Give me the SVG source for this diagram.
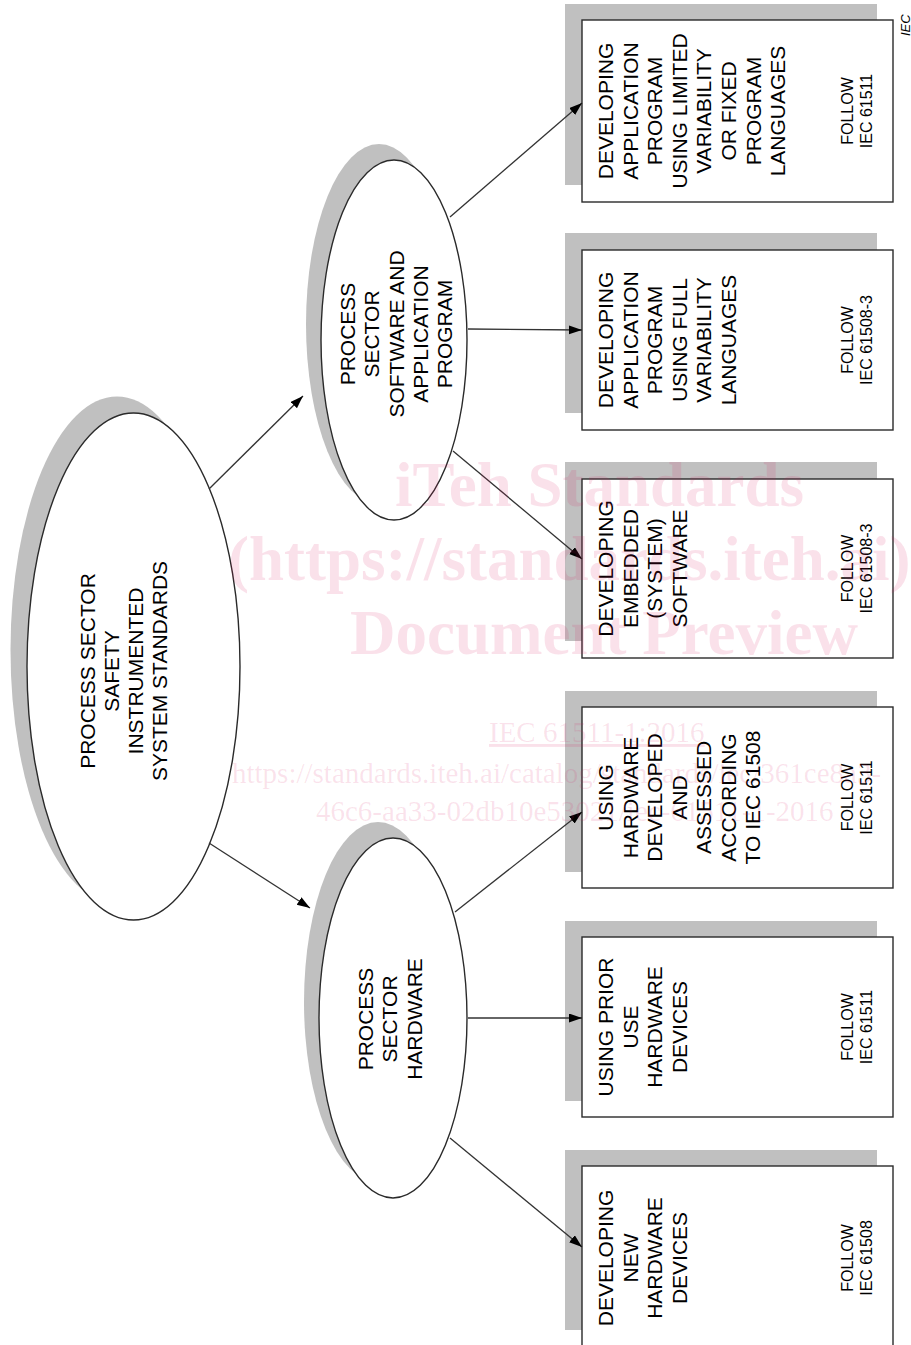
<svg xmlns="http://www.w3.org/2000/svg" width="911" height="1345" viewBox="0 0 911 1345">
<style>
.sh{fill:#c0c0c0;stroke:none}
.node{fill:#fff;stroke:#2a2a2a;stroke-width:1.4}
.lbl{font-family:"Liberation Sans",Arial,sans-serif;font-size:21px;fill:#000;text-anchor:middle}
.fol{font-family:"Liberation Sans",Arial,sans-serif;font-size:16px;fill:#000;text-anchor:middle}
.con{stroke:#333;stroke-width:1.3;fill:none;marker-end:url(#ah)}
.wm{font-family:"Liberation Serif","Times New Roman",serif;fill:#d81b60;fill-opacity:0.13}
.wb{font-weight:bold;font-size:63px}
.wr{font-size:29px}
</style>
<defs>
<marker id="ah" markerUnits="userSpaceOnUse" markerWidth="14" markerHeight="10" refX="13" refY="4.5" orient="auto">
<path d="M0,0 L13,4.5 L0,9 Z" fill="#000"/>
</marker>
</defs>
<rect width="911" height="1345" fill="#fff"/>

<g id="main">
<ellipse class="sh" cx="117" cy="650" rx="106.5" ry="253.5"/>
<ellipse class="node" cx="133.5" cy="666.5" rx="106.5" ry="253.5"/>
<text class="lbl" transform="translate(95,671) rotate(-90)"><tspan x="0" y="0">PROCESS SECTOR</tspan><tspan x="0" dy="24">SAFETY</tspan><tspan x="0" dy="24">INSTRUMENTED</tspan><tspan x="0" dy="24">SYSTEM STANDARDS</tspan></text>
</g>

<g id="software">
<ellipse class="sh" cx="379" cy="324" rx="73" ry="180"/>
<ellipse class="node" cx="394" cy="340" rx="73" ry="180"/>
<text class="lbl" transform="translate(355,334) rotate(-90)"><tspan x="0" y="0">PROCESS</tspan><tspan x="0" dy="24.3">SECTOR</tspan><tspan x="0" dy="24.3">SOFTWARE AND</tspan><tspan x="0" dy="24.3">APPLICATION</tspan><tspan x="0" dy="24.3">PROGRAM</tspan></text>
</g>

<g id="hardware">
<ellipse class="sh" cx="378" cy="1002" rx="74" ry="180"/>
<ellipse class="node" cx="393" cy="1018" rx="74" ry="180"/>
<text class="lbl" transform="translate(373,1019) rotate(-90)"><tspan x="0" y="0">PROCESS</tspan><tspan x="0" dy="24.3">SECTOR</tspan><tspan x="0" dy="24.3">HARDWARE</tspan></text>
</g>

<g id="box1">
<rect class="sh" x="565" y="4" width="312" height="181"/>
<rect class="node" x="582" y="20" width="311" height="182"/>
<text class="lbl" transform="translate(613,111) rotate(-90)"><tspan x="0" y="0">DEVELOPING</tspan><tspan x="0" dy="24.6">APPLICATION</tspan><tspan x="0" dy="24.6">PROGRAM</tspan><tspan x="0" dy="24.6">USING LIMITED</tspan><tspan x="0" dy="24.6">VARIABILITY</tspan><tspan x="0" dy="24.6">OR FIXED</tspan><tspan x="0" dy="24.6">PROGRAM</tspan><tspan x="0" dy="24.6">LANGUAGES</tspan></text>
<text class="fol" transform="translate(853,111) rotate(-90)"><tspan x="0" y="0">FOLLOW</tspan><tspan x="0" dy="19">IEC 61511</tspan></text>
</g>

<g id="box2">
<rect class="sh" x="565" y="233" width="312" height="180"/>
<rect class="node" x="582" y="250" width="311" height="180"/>
<text class="lbl" transform="translate(613,340) rotate(-90)"><tspan x="0" y="0">DEVELOPING</tspan><tspan x="0" dy="24.5">APPLICATION</tspan><tspan x="0" dy="24.5">PROGRAM</tspan><tspan x="0" dy="24.5">USING FULL</tspan><tspan x="0" dy="24.5">VARIABILITY</tspan><tspan x="0" dy="24.5">LANGUAGES</tspan></text>
<text class="fol" transform="translate(853,340) rotate(-90)"><tspan x="0" y="0">FOLLOW</tspan><tspan x="0" dy="19">IEC 61508-3</tspan></text>
</g>

<g id="box3">
<rect class="sh" x="565" y="462" width="312" height="179"/>
<rect class="node" x="582" y="479" width="311" height="179"/>
<text class="lbl" transform="translate(613,568.5) rotate(-90)"><tspan x="0" y="0">DEVELOPING</tspan><tspan x="0" dy="24.5">EMBEDDED</tspan><tspan x="0" dy="24.5">(SYSTEM)</tspan><tspan x="0" dy="24.5">SOFTWARE</tspan></text>
<text class="fol" transform="translate(853,568.5) rotate(-90)"><tspan x="0" y="0">FOLLOW</tspan><tspan x="0" dy="19">IEC 61508-3</tspan></text>
</g>

<g id="box4">
<rect class="sh" x="565" y="691" width="312" height="181"/>
<rect class="node" x="582" y="707" width="311" height="181"/>
<text class="lbl" transform="translate(613,797.5) rotate(-90)"><tspan x="0" y="0">USING</tspan><tspan x="0" dy="24.5">HARDWARE</tspan><tspan x="0" dy="24.5">DEVELOPED</tspan><tspan x="0" dy="24.5">AND</tspan><tspan x="0" dy="24.5">ASSESSED</tspan><tspan x="0" dy="24.5">ACCORDING</tspan><tspan x="0" dy="24.5">TO IEC 61508</tspan></text>
<text class="fol" transform="translate(853,797.5) rotate(-90)"><tspan x="0" y="0">FOLLOW</tspan><tspan x="0" dy="19">IEC 61511</tspan></text>
</g>

<g id="box5">
<rect class="sh" x="565" y="921" width="312" height="180"/>
<rect class="node" x="582" y="937" width="311" height="180"/>
<text class="lbl" transform="translate(613,1027) rotate(-90)"><tspan x="0" y="0">USING PRIOR</tspan><tspan x="0" dy="24.5">USE</tspan><tspan x="0" dy="24.5">HARDWARE</tspan><tspan x="0" dy="24.5">DEVICES</tspan></text>
<text class="fol" transform="translate(853,1027) rotate(-90)"><tspan x="0" y="0">FOLLOW</tspan><tspan x="0" dy="19">IEC 61511</tspan></text>
</g>

<g id="box6">
<rect class="sh" x="565" y="1150" width="312" height="180"/>
<rect class="node" x="582" y="1166" width="311" height="180"/>
<text class="lbl" transform="translate(613,1258) rotate(-90)"><tspan x="0" y="0">DEVELOPING</tspan><tspan x="0" dy="24.5">NEW</tspan><tspan x="0" dy="24.5">HARDWARE</tspan><tspan x="0" dy="24.5">DEVICES</tspan></text>
<text class="fol" transform="translate(853,1258) rotate(-90)"><tspan x="0" y="0">FOLLOW</tspan><tspan x="0" dy="19">IEC 61508</tspan></text>
</g>

<g id="connectors">
<line class="con" x1="209" y1="489" x2="303" y2="396"/>
<line class="con" x1="209" y1="843" x2="310" y2="908"/>
<line class="con" x1="450" y1="217" x2="582" y2="103"/>
<line class="con" x1="468" y1="329" x2="582" y2="330"/>
<line class="con" x1="453" y1="451" x2="582" y2="559"/>
<line class="con" x1="455" y1="912" x2="582" y2="812"/>
<line class="con" x1="468" y1="1018" x2="582" y2="1018"/>
<line class="con" x1="450" y1="1138" x2="582" y2="1247"/>
</g>

<text transform="translate(910,36) rotate(-90)" font-family="Liberation Sans,Arial,sans-serif" font-size="13" font-style="italic" fill="#000">IEC</text>

<g id="watermark">
<text class="wm wb" x="395" y="506">iTeh Standards</text>
<text class="wm wb" x="228" y="580">(https://standards.iteh.ai)</text>
<text class="wm wb" x="350" y="654">Document Preview</text>
<text class="wm wr" x="489" y="742" text-decoration="underline">IEC 61511-1:2016</text>
<text class="wm wr" x="232" y="783">https://standards.iteh.ai/catalog/standards/iec/361ce8a3-</text>
<text class="wm wr" x="316" y="821">46c6-aa33-02db10e53021/iec-61511-1-2016</text>
</g>
</svg>
